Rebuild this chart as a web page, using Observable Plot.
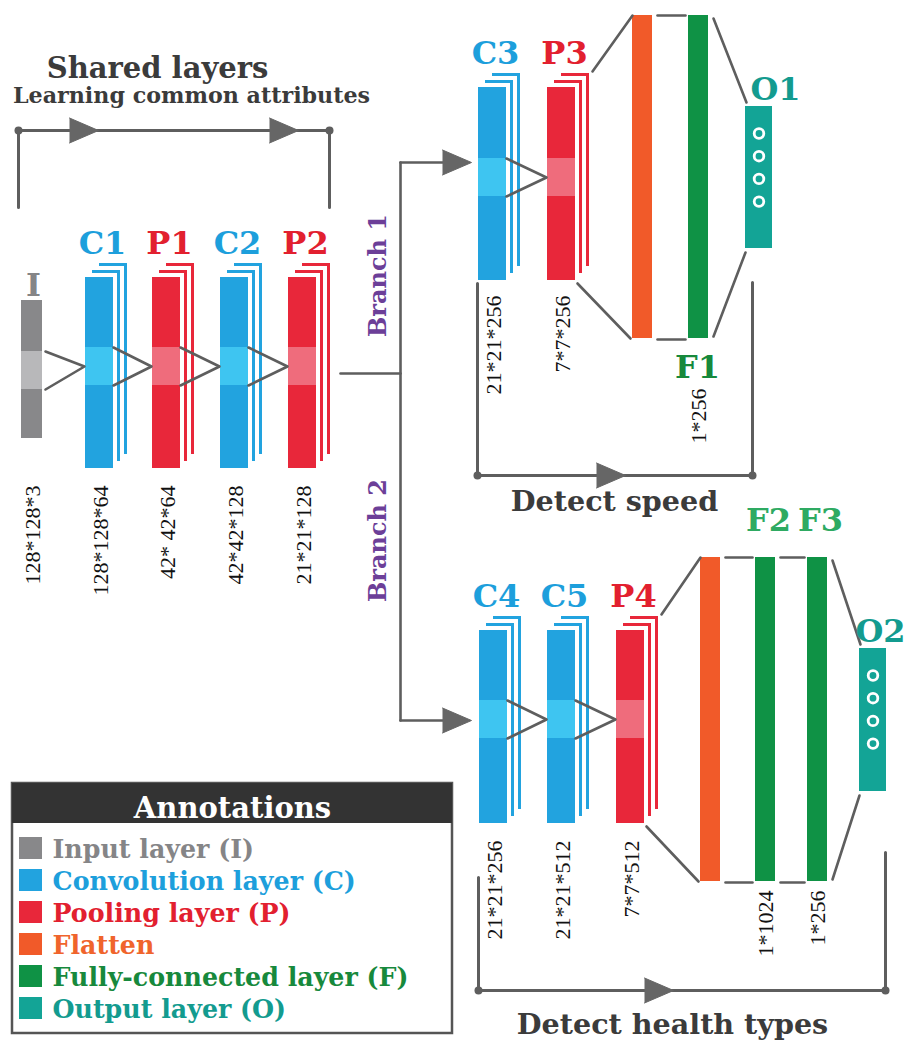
<!DOCTYPE html>
<html>
<head>
<meta charset="utf-8">
<script src="https://cdn.jsdelivr.net/npm/d3@7"></script>
<script src="https://cdn.jsdelivr.net/npm/@observablehq/plot@0.6"></script>
<style>
  html, body { margin: 0; padding: 0; background: #ffffff; }
  #chart svg { display: block; }
</style>
</head>
<body>
<div id="chart"></div>
<script>
const W = 905, H = 1041;
const FONT = "'DejaVu Serif', serif";
const DIGITS = "'Liberation Serif', 'DejaVu Serif', serif";

// ---------- feature-map layers ----------
const layerNames  = ["I", "C1", "P1", "C2", "P2", "C3", "P3", "C4", "C5", "P4"];
const layerKinds  = ["input", "conv", "pool", "conv", "pool", "conv", "pool", "conv", "conv", "pool"];
const layerShapes = ["128*128*3", "128*128*64", "42* 42*64", "42*42*128", "21*21*128",
                     "21*21*256", "7*7*256", "21*21*256", "21*21*512", "7*7*512"];
const layerRow    = [0, 0, 0, 0, 0, 1, 1, 2, 2, 2];
const layerLeft   = [21, 85, 152, 220, 288, 478, 547, 479, 547, 616];
const layerTop    = [300, 277, 277, 277, 277, 87, 87, 630, 630, 630];
const layerBottom = [438, 468, 468, 468, 468, 280, 280, 823, 823, 823];
const layerBand   = [370, 366, 366, 366, 366, 177, 177, 719, 719, 719];
const rowShapeTop = [485, 295, 840];

// ---------- flatten / fully-connected layers ----------
const denseNames  = ["", "F1", "", "F2", "F3"];
const denseKinds  = ["flatten", "fc", "flatten", "fc", "fc"];
const denseShapes = ["", "1*256", "", "1*1024", "1*256"];
const denseLeft   = [632, 688, 700, 755, 807];
const denseTop    = [15, 15, 557, 557, 557];
const denseBottom = [338, 338, 881, 881, 881];
const denseLabelSide = ["", "below", "", "above", "above"];

// ---------- output layers ----------
const outNames  = ["O1", "O2"];
const outLeft   = [745, 859];
const outTop    = [106, 648];
const outBottom = [248, 791];
const outLabelX = [775, 880];
const outUnits  = [4, 4];

// ---------- flow brackets ----------
const bracketNames  = ["Shared layers", "Detect speed", "Detect health types"];
const bracketLeft   = [18, 477, 478];
const bracketRight  = [329, 752, 885];
const bracketRail   = [130, 475, 990];
const bracketLeftEnd  = [207, 283, 877];
const bracketRightEnd = [207, 282, 852];
const bracketArrows = [[98, 298], [625], [673]];
const bracketTextY  = [77, 510, 1033];
const bracketTextX  = [157, 614, 672];

// ---------- branches ----------
const branchNames = ["Branch 1", "Branch 2"];
const branchY     = [162, 720];
const branchLabelY = [275, 540];

// ---------- legend ----------
const legendLabels = ["Input layer (I)", "Convolution layer (C)", "Pooling layer (P)",
                      "Flatten", "Fully-connected layer (F)", "Output layer (O)"];
const legendKinds  = ["input", "conv", "pool", "flatten", "fc", "output"];

// ---------- colours ----------
const fillOf  = {input: "#88888a", conv: "#22a3df", pool: "#e8273a", flatten: "#f15a29", fc: "#0f9245", output: "#13a496"};
const bandOf  = {input: "#b8b8ba", conv: "#3ec5f1", pool: "#ef6c7c"};
const textOf  = {input: "#858587", conv: "#1d9fdc", pool: "#e2202f", flatten: "#f0642c", fc: "#17893c", output: "#139b8f"};
const LINE = "#5e5e5e";
const DARK = "#3b3b3b";

// ---------- derived geometry ----------
const layers = layerNames.map((name, i) => {
  const kind = layerKinds[i];
  const w = kind === "input" ? 21 : 28;
  return {name, kind, shape: layerShapes[i], row: layerRow[i],
          x1: layerLeft[i], x2: layerLeft[i] + w, y1: layerTop[i], y2: layerBottom[i], band: layerBand[i]};
});

const planes = [];
for (const d of layers) {
  if (d.kind === "input") continue;
  for (const k of [2, 1]) {
    const o = 7 * k;
    planes.push({x1: d.x1 + o, x2: d.x2 + o, y1: d.y1 - o, y2: d.y2 - o, fill: fillOf[d.kind]});
    planes.push({x1: d.x1 + o - 3, x2: d.x2 + o - 3, y1: d.y1 - o + 3, y2: d.y2 - o + 3, fill: "#ffffff"});
  }
}
const bands = layers.map(d => ({x1: d.x1, x2: d.x2, y1: d.band - 19, y2: d.band + 19, fill: bandOf[d.kind]}));

const kernels = [];
layers.forEach((b, i) => {
  if (i === 0) return;
  const a = layers[i - 1];
  if (a.row !== b.row) return;
  const xs = a.x2 + (a.kind === "input" ? 3 : 0);
  kernels.push({id: i, x: xs, y: a.band - 19}, {id: i, x: b.x1 - 1, y: b.band}, {id: i, x: xs, y: a.band + 19});
});

const dense = denseNames.map((name, i) => ({
  name, kind: denseKinds[i], shape: denseShapes[i], side: denseLabelSide[i],
  x1: denseLeft[i], x2: denseLeft[i] + 20, y1: denseTop[i], y2: denseBottom[i]
}));

const outs = outNames.map((name, i) => ({
  name, x1: outLeft[i], x2: outLeft[i] + 27, y1: outTop[i], y2: outBottom[i], lx: outLabelX[i], units: outUnits[i]
}));
const units = outs.flatMap(o => d3.range(o.units).map(j => ({x: (o.x1 + o.x2) / 2, y: o.y1 + 27 + 22.7 * j})));

// segments: pool stack -> flatten -> fc ... -> output
const segs = [];
const groups = [
  {pool: layers[6], chain: [dense[0], dense[1]], out: outs[0]},
  {pool: layers[9], chain: [dense[2], dense[3], dense[4]], out: outs[1]}
];
groups.forEach(g => {
  const f = g.chain[0], l = g.chain[g.chain.length - 1];
  segs.push([[g.pool.x2 + 17, g.pool.y1 - 16], [f.x1, f.y1]]);
  segs.push([[g.pool.x2 + 2, g.pool.y2 + 3], [f.x1 - 2, f.y2]]);
  for (let k = 1; k < g.chain.length; k++) {
    const a = g.chain[k - 1], b = g.chain[k];
    segs.push([[a.x2 + 5, a.y1], [b.x1 - 3, b.y1]]);
    segs.push([[a.x2 + 5, a.y2 + 1], [b.x1 - 3, b.y2 + 1]]);
  }
  segs.push([[l.x2 + 5, l.y1 + 3], [g.out.x1 + 1, g.out.y1 - 4]]);
  segs.push([[l.x2 + 5, l.y2 - 2], [g.out.x1, g.out.y2 + 4]]);
});
// branching tree
segs.push([[340, 373], [400, 373]]);
segs.push([[400, branchY[0]], [400, branchY[1]]]);
branchY.forEach(y => segs.push([[400, y], [450, y]]));
const segPts = segs.flatMap((s, i) => s.map(([x, y]) => ({id: i, x, y})));

// brackets
const bracketPts = [];
const dots = [];
const arrowTips = [];
bracketNames.forEach((n, i) => {
  const L = bracketLeft[i], R = bracketRight[i], y = bracketRail[i];
  [[L, bracketLeftEnd[i]], [L, y], [R, y], [R, bracketRightEnd[i]]]
    .forEach(([x, yy]) => bracketPts.push({id: i, x, y: yy}));
  dots.push({x: L, y}, {x: R, y});
  bracketArrows[i].forEach(t => arrowTips.push({x: t, y}));
});
branchY.forEach(y => arrowTips.push({x: 471, y}));
const arrowPts = arrowTips.flatMap((t, i) => [
  {id: i, x: t.x - 29, y: t.y - 12.5}, {id: i, x: t.x, y: t.y}, {id: i, x: t.x - 29, y: t.y + 12.5}
]);

// legend rows
const legendRows = legendLabels.map((label, i) => ({label, kind: legendKinds[i], top: 837 + 32 * i}));

// ---------- plot ----------
const bold = {fontFamily: FONT, fontWeight: "bold"};
const chart = Plot.plot({
  width: W, height: H,
  margin: 0,
  x: {domain: [0, W], range: [0, W], axis: null},
  y: {domain: [0, H], range: [0, H], axis: null},
  style: {background: "#ffffff"},
  marks: [
    // back planes, main planes, kernel band
    Plot.rect(planes, {x1: "x1", x2: "x2", y1: "y1", y2: "y2", fill: d => d.fill}),
    Plot.rect(layers, {x1: "x1", x2: "x2", y1: "y1", y2: "y2", fill: d => fillOf[d.kind]}),
    Plot.rect(bands, {x1: "x1", x2: "x2", y1: "y1", y2: "y2", fill: d => d.fill}),
    Plot.line(kernels, {x: "x", y: "y", z: "id", stroke: LINE, strokeWidth: 2.6, curve: "linear"}),
    // dense + outputs
    Plot.rect(dense, {x1: "x1", x2: "x2", y1: "y1", y2: "y2", fill: d => fillOf[d.kind]}),
    Plot.rect(outs, {x1: "x1", x2: "x2", y1: "y1", y2: "y2", fill: fillOf.output}),
    Plot.dot(units, {x: "x", y: "y", r: 4.8, stroke: "#ffffff", strokeWidth: 2.8, fill: "none"}),
    // connectors
    Plot.line(segPts, {x: "x", y: "y", z: "id", stroke: LINE, strokeWidth: 2.6}),
    Plot.line(bracketPts, {x: "x", y: "y", z: "id", stroke: LINE, strokeWidth: 3, strokeLinejoin: "miter"}),
    Plot.dot(dots, {x: "x", y: "y", r: 4, fill: LINE}),
    Plot.line(arrowPts, {x: "x", y: "y", z: "id", fill: "#666666", stroke: "#666666", strokeWidth: 1}),
    // layer names
    Plot.text(layers, {x: d => d.kind === "input" ? d.x1 + 12 : d.x1 + 17,
                       y: d => d.kind === "input" ? d.y1 - 5 : d.y1 - 24,
                       text: "name", fill: d => textOf[d.kind], fontSize: 32, lineAnchor: "bottom", ...bold}),
    Plot.text(dense.filter(d => d.name), {x: d => (d.x1 + d.x2) / 2 + (d.side === "above" ? 3 : -1),
                       y: d => d.side === "above" ? d.y1 - 27 : d.y2 + 39,
                       text: "name", fill: d => d.side === "above" ? "#2eaa62" : textOf.fc, fontSize: 32, lineAnchor: "bottom", ...bold}),
    Plot.text(outs, {x: "lx", y: d => d.y1 - 7, text: "name", fill: textOf.output, fontSize: 32, lineAnchor: "bottom", ...bold}),
    // shapes
    Plot.text(layers, {x: d => d.kind === "input" ? d.x1 + 11 : d.x1 + 15, y: d => rowShapeTop[d.row],
                       text: "shape", rotate: -90, textAnchor: "end", lineAnchor: "middle",
                       fontSize: 22, fontFamily: DIGITS, fill: "#111111"}),
    Plot.text(dense.filter(d => d.shape), {x: d => (d.x1 + d.x2) / 2, y: d => d.side === "below" ? d.y2 + 50 : d.y2 + 9,
                       text: "shape", rotate: -90, textAnchor: "end", lineAnchor: "middle",
                       fontSize: 22, fontFamily: DIGITS, fill: "#111111"}),
    // section titles
    Plot.text(bracketNames, {x: (d, i) => bracketTextX[i], y: (d, i) => bracketTextY[i], text: d => d,
                       fontSize: (d, i) => i === 0 ? 29 : 28.6, lineAnchor: "bottom", fill: DARK, ...bold}),
    Plot.text(["Learning common attributes"], {x: 191, y: 102, text: d => d, fontSize: 22.2, lineAnchor: "bottom", fill: DARK, ...bold}),
    Plot.text(branchNames, {x: 378, y: (d, i) => branchLabelY[i], text: d => d, rotate: -90, fontSize: 24,
                       lineAnchor: "middle", fill: "#6c3f98", ...bold}),
    // legend
    Plot.rect([0], {x1: 12, x2: 452, y1: 783, y2: 1033, fill: "#ffffff", stroke: "#555555", strokeWidth: 2.5}),
    Plot.rect([0], {x1: 12, x2: 452, y1: 783, y2: 823, fill: "#333333"}),
    Plot.text(["Annotations"], {x: 232, y: 817, text: d => d, fontSize: 29, lineAnchor: "bottom", fill: "#ffffff", ...bold}),
    Plot.rect(legendRows, {x1: 19, x2: 42, y1: "top", y2: d => d.top + 22, fill: d => fillOf[d.kind]}),
    Plot.text(legendRows, {x: 52, y: d => d.top + 20, text: "label", textAnchor: "start", lineAnchor: "bottom",
                       fontSize: 25.3, fill: d => textOf[d.kind], ...bold})
  ]
});
document.getElementById("chart").appendChild(chart);
</script>
</body>
</html>
